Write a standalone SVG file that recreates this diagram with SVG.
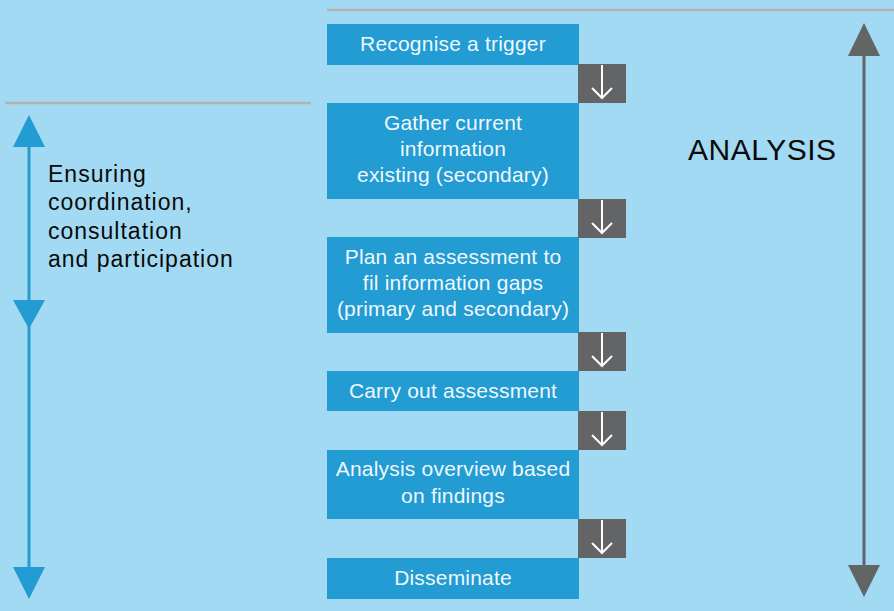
<svg xmlns="http://www.w3.org/2000/svg" width="894" height="611" viewBox="0 0 894 611">
<defs>
<style>
.step{fill:#239bd3}
.gap{fill:#636466}
.st{font-family:"Liberation Sans",Arial,Helvetica,sans-serif;font-size:21px;fill:#eef8fd;text-anchor:middle;letter-spacing:0.2px}
.lbl{font-family:"Liberation Sans",Arial,Helvetica,sans-serif;fill:#0a0a0a}
.wa{stroke:#ffffff;stroke-width:2;fill:none}
.rule{stroke:#b2b2b2;stroke-width:2.5}
</style>
</defs>
<rect width="894" height="611" fill="#a3daf3"/>
<line class="rule" x1="327" y1="10" x2="894" y2="10"/>
<line class="rule" x1="5" y1="103" x2="311" y2="103"/>

<g id="node-trigger"><rect class="step" x="327" y="24" width="252" height="41"/><text class="st" x="453" y="51">Recognise a trigger</text></g>
<g id="node-gather"><rect class="step" x="327" y="103" width="252" height="96"/><text class="st" x="453" y="130">Gather current</text><text class="st" x="453" y="156">information</text><text class="st" x="453" y="182">existing (secondary)</text></g>
<g id="node-plan"><rect class="step" x="327" y="237" width="252" height="96"/><text class="st" x="453" y="264">Plan an assessment to</text><text class="st" x="453" y="290">fil information gaps</text><text class="st" x="453" y="316">(primary and secondary)</text></g>
<g id="node-carry"><rect class="step" x="327" y="371" width="252" height="40"/><text class="st" x="453" y="398">Carry out assessment</text></g>
<g id="node-analysis"><rect class="step" x="327" y="450" width="252" height="69"/><text class="st" x="453" y="476">Analysis overview based</text><text class="st" x="453" y="503">on findings</text></g>
<g id="node-disseminate"><rect class="step" x="327" y="558" width="252" height="41"/><text class="st" x="453" y="585">Disseminate</text></g>

<g id="connectors">
<g><rect class="gap" x="578" y="64" width="48" height="39"/><path class="wa" d="M602 65V98M592 88L602 98L612 88"/></g>
<g><rect class="gap" x="578" y="199" width="48" height="39"/><path class="wa" d="M602 200V233M592 223L602 233L612 223"/></g>
<g><rect class="gap" x="578" y="332" width="48" height="39"/><path class="wa" d="M602 333V366M592 356L602 366L612 356"/></g>
<g><rect class="gap" x="578" y="411" width="48" height="39"/><path class="wa" d="M602 412V445M592 435L602 445L612 435"/></g>
<g><rect class="gap" x="578" y="519" width="48" height="39"/><path class="wa" d="M602 520V553M592 543L602 553L612 543"/></g>
</g>

<g id="left-span">
<line x1="29" y1="140" x2="29" y2="570" stroke="#239bd3" stroke-width="3"/>
<polygon points="29,115 45,147 13,147" fill="#239bd3"/>
<polygon points="13,300 45,300 29,329" fill="#239bd3"/>
<polygon points="13,567 45,567 29,599" fill="#239bd3"/>
<text class="lbl" font-size="23" letter-spacing="1"><tspan x="48" y="182">Ensuring</tspan><tspan x="48" y="210">coordination,</tspan><tspan x="48" y="239">consultation</tspan><tspan x="48" y="267">and participation</tspan></text>
</g>

<g id="right-span">
<line x1="864" y1="50" x2="864" y2="570" stroke="#636466" stroke-width="3"/>
<polygon points="864,23 880,56 848,56" fill="#636466"/>
<polygon points="848,565 880,565 864,597" fill="#636466"/>
<text class="lbl" x="688" y="160" font-size="30" letter-spacing="0.5">ANALYSIS</text>
</g>
</svg>
